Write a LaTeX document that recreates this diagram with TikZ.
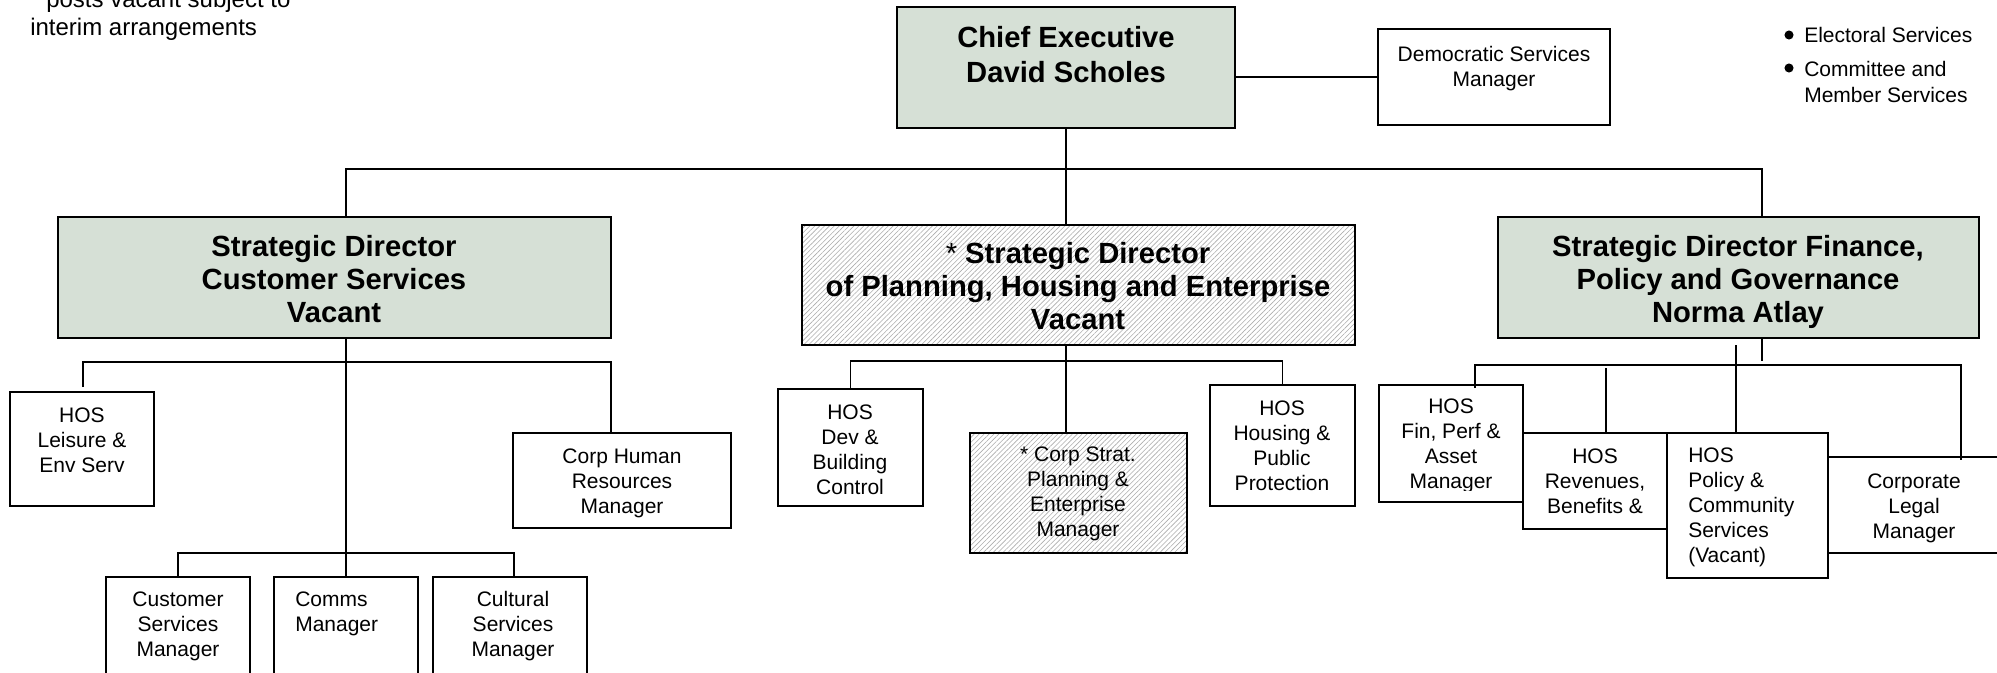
\documentclass[tikz,border=0pt]{standalone}
\usepackage{fontspec}
\setmainfont{Liberation Sans}
\usetikzlibrary{fit,patterns.meta}
\definecolor{dirgreen}{RGB}{214,224,214}
\tikzset{
  box/.style={draw=black, line width=1.4pt, inner sep=0pt, fill=white},
  greenbox/.style={box, fill=dirgreen},
  hatchbox/.style={draw=black, line width=1.4pt, inner sep=0pt,
    pattern={Lines[angle=45,distance=2.6pt,line width=0.45pt]}, pattern color=black!32},
  conn/.style={line width=1.3pt},
  reg/.style={font=\fontsize{15.75}{18.75}\selectfont, align=center, inner sep=0pt},
  regl/.style={font=\fontsize{15.75}{18.75}\selectfont, align=left, inner sep=0pt},
  bold/.style={font=\bfseries\fontsize{21.9}{25}\selectfont, align=center, inner sep=0pt},
  note/.style={font=\fontsize{18}{21}\selectfont, inner sep=0pt},
  dot/.style={circle, fill=black, inner sep=0pt, minimum size=6.8pt},
}
\begin{document}
\begin{tikzpicture}[x=0.75pt,y=-0.75pt]
\useasboundingbox (0,0) rectangle (1997,673);
\fill[white] (0,0) rectangle (1997,673);
\clip (0,0) rectangle (1997,673);

% note
\node[note, anchor=base west] (note1) at (30,8) {* posts vacant subject to};
\node[note, anchor=base west] (note2) at (30,36) {interim arrangements};

% legend
\node[dot] (b1) at (1789,35) {};
\node[regl, anchor=west] (l1) at (1804,35) {Electoral Services};
\node[dot] (b2) at (1789,68) {};
\node[regl, anchor=west, font=\fontsize{15.75}{19.5}\selectfont] (l2) at (1804,82) {Committee and\\Member Services};

% boxes
\node[greenbox, fit={(897,7) (1235,128)}] (ce) {};
\node[box, fit={(1378,29) (1610,125)}] (dem) {};
\node[greenbox, fit={(58,217) (611,338)}] (sdc) {};
\node[hatchbox, fit={(802,225) (1355,345)}] (sdp) {};
\node[greenbox, fit={(1498,217) (1979,338)}] (sdf) {};
\node[box, fit={(10,392) (154,506)}] (leis) {};
\node[box, fit={(513,433) (731,528)}] (hr) {};
\node[box, fit={(106,577) (250,700)}] (csm) {};
\node[box, fit={(274,577) (418,700)}] (comms) {};
\node[box, fit={(433,577) (587,700)}] (cult) {};
\node[box, fit={(778,389) (923,506)}] (dev) {};
\node[hatchbox, fit={(970,433) (1187,553)}] (cs) {};
\node[box, fit={(1210,385) (1355,506)}] (hous) {};
\node[box, fit={(1379,385) (1523,502)}] (fin) {};
\node[box, fit={(1523,433) (1667,529)}] (rev) {};
\node[box, fit={(1667,433) (1828,578)}] (pol) {};
\node[box, fit={(1828,457) (2020,553)}] (legal) {};

% texts
\node[bold, font=\bfseries\fontsize{21.9}{26.25}\selectfont] (ceT) at (1066,55) {Chief Executive\\David Scholes};
\node[reg] (demT) at (1494,68.5) {Democratic Services\\Manager};
\node[bold] (sdcT) at (334,279) {Strategic Director\\Customer Services\\Vacant};
\node[bold] (sdpT) at (1078,286) {{\mdseries *} Strategic Director\\of Planning, Housing and Enterprise\\Vacant};
\node[bold] (sdfT) at (1738,282) {Strategic Director Finance,\\Policy and Governance\\Norma Atlay};
\node[reg] (leisT) at (82,440) {HOS\\Leisure \&\\Env Serv};
\node[reg] (hrT) at (622,483.5) {Corp Human\\Resources\\Manager};
\node[reg] (csmT) at (178,626) {Customer\\Services\\Manager};
\node[regl, anchor=west] (commsT) at (295,614) {Comms\\Manager};
\node[reg] (cultT) at (513,626) {Cultural\\Services\\Manager};
\node[reg] (devT) at (850,449.5) {HOS\\Dev \&\\Building\\Control};
\node[reg] (csT) at (1078,494) {* Corp Strat.\\Planning \&\\Enterprise\\Manager};
\node[reg] (housT) at (1282,446) {HOS\\Housing \&\\Public\\Protection};
\begin{scope}
  \clip (1379,385) rectangle (1523,490);
  \node[reg] (finT) at (1451,446) {HOS\\Fin, Perf \&\\Asset\\Manager};
\end{scope}
\node[reg] (revT) at (1595,481) {HOS\\Revenues,\\Benefits \&};
\node[regl, anchor=west] (polT) at (1688,507) {HOS\\Policy \&\\Community\\Services\\(Vacant)};
\node[reg] (legalT) at (1914,508.5) {Corporate\\Legal\\Manager};

% connectors: top
\draw[conn] (ce.east |- dem.west) -- (dem.west);
\draw[conn] (ce.south) -- (ce.south |- sdp.north);
\coordinate (tl) at (346,169);
\coordinate (tr) at (1762,169);
\draw[conn] (tl |- sdc.north) -- (tl) -- (tr) -- (tr |- sdf.north);

% customer services tree
\coordinate (lt) at (83,387);
\coordinate (cl) at (83,362);
\coordinate (cr) at (611,362);
\draw[conn] (tl |- sdc.south) -- (tl |- comms.north);
\draw[conn] (lt) -- (cl) -- (cr) -- (cr |- hr.north);
\coordinate (bl) at (178,553);
\coordinate (br) at (514,553);
\draw[conn] (csm.north) -- (bl) -- (br) -- (br |- cult.north);

% planning tree
\draw[conn] (ce.south |- sdp.south) -- (ce.south |- cs.north);
\draw[conn] (dev.north) -- ++(0,-27) -| (hous.north);

% finance tree
\coordinate (fa) at (1762,361);
\draw[conn] (tr |- sdf.south) -- (fa);
\coordinate (fd) at (1475,388);
\coordinate (fl) at (1475,365);
\coordinate (fr) at (1961,365);
\coordinate (lg) at (1961,460);
\draw[conn] (fd) -- (fl) -- (fr) -- (lg);
\coordinate (rv) at (1606,368);
\draw[conn] (rv) -- (rv |- rev.north);
\coordinate (pv) at (1736,345);
\draw[conn] (pv) -- (pv |- pol.north);
\end{tikzpicture}
\end{document}
